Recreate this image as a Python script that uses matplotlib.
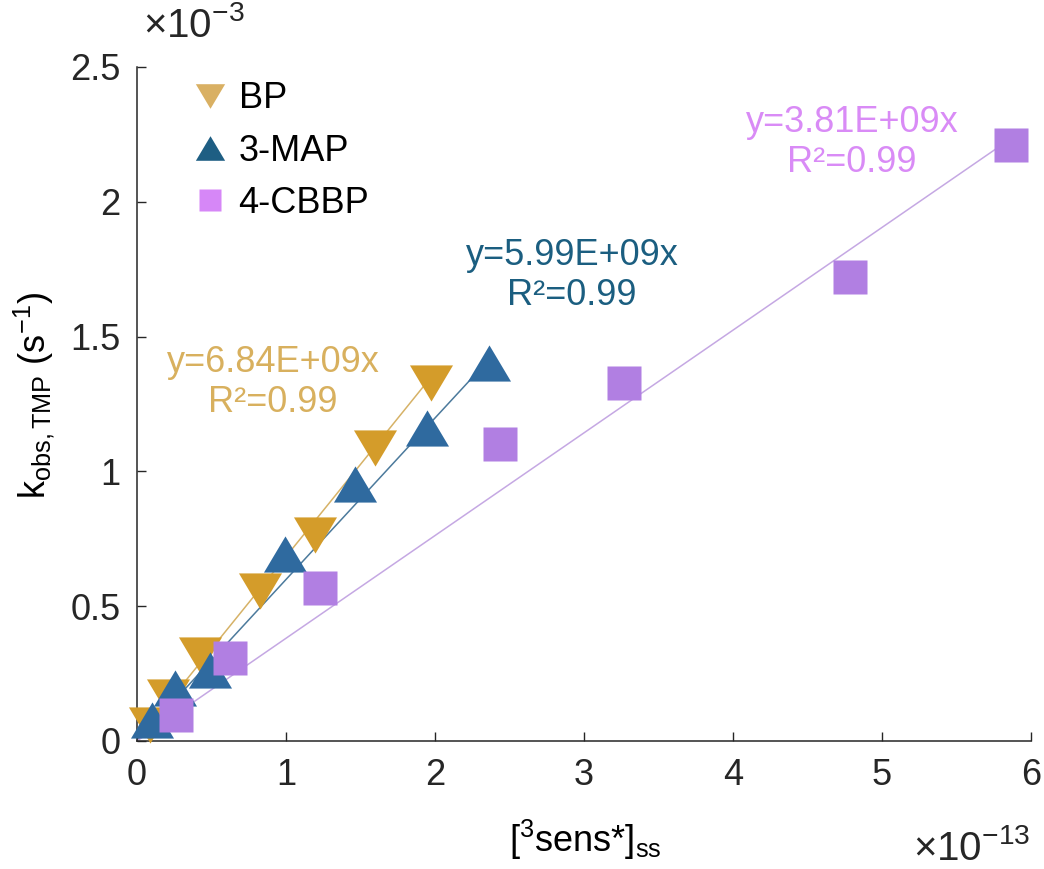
import numpy as np
import matplotlib
matplotlib.use("Agg")
import matplotlib.pyplot as plt

plt.rcParams['font.family'] = ['Liberation Sans', 'DejaVu Sans']
plt.rcParams['mathtext.fontset'] = 'custom'
plt.rcParams['mathtext.rm'] = 'Liberation Sans'
plt.rcParams['mathtext.it'] = 'Liberation Sans'

# x in units of 1e-13, y in units of 1e-3
bp_x = [0.087, 0.21, 0.42, 0.826, 1.195, 1.597, 1.973]
bp_y = [0.060, 0.163, 0.32, 0.557, 0.765, 1.088, 1.327]
map_x = [0.10, 0.255, 0.49, 0.993, 1.463, 1.946, 2.362]
map_y = [0.078, 0.197, 0.264, 0.695, 0.954, 1.162, 1.403]
cbbp_x = [0.26, 0.625, 1.23, 2.437, 3.27, 4.785, 5.866]
cbbp_y = [0.096, 0.309, 0.569, 1.103, 1.329, 1.722, 2.209]

# fitted slopes (s^-1 per concentration unit)
slopes = [6.84e9, 5.99e9, 3.81e9]
fit_text = ['y=6.84E+09x\nR²=0.99', 'y=5.99E+09x\nR²=0.99', 'y=3.81E+09x\nR²=0.99']

x_ticks = [0, 1, 2, 3, 4, 5, 6]
y_ticks = [0, 0.5, 1, 1.5, 2, 2.5]
y_ticklabels = ['0', '0.5', '1', '1.5', '2', '2.5']

names = ['BP', '3-MAP', '4-CBBP']
marker_col = ['#D49C2A', '#2F6A9F', '#B17FE2']
legend_col = ['#D9B063', '#1E5E83', '#D687F7']
text_col = ['#D8B05E', '#1B5E80', '#D98BF6']
line_col = ['#D6B267', '#4C7A9C', '#C5A8E3']

tri_down = [(-1, 0.84), (1, 0.84), (0, -0.84)]
tri_up = [(-1, -0.84), (1, -0.84), (0, 0.84)]

fig = plt.figure(figsize=(10.44, 8.69), dpi=100)
ax = fig.add_axes([0.1312, 0.1473, 0.8564, 0.7756])

series = [(bp_x, bp_y, tri_down, 31), (map_x, map_y, tri_up, 31), (cbbp_x, cbbp_y, 's', 24)]

# fit lines first so markers sit on top
for i, (xs, ys, mk, ms) in enumerate(series):
    xx = np.array([0, max(xs)])
    yy = slopes[i] * xx * 1e-13 / 1e-3
    ax.plot(xx, yy, color=line_col[i], lw=1.1, zorder=2)

handles = []
for i, (xs, ys, mk, ms) in enumerate(series):
    h, = ax.plot(xs, ys, linestyle='none', marker=mk, ms=ms, color=marker_col[i],
                 mec='none', label=names[i], zorder=3, clip_on=False)
    handles.append(h)

# fit annotations
ax.text(0.913, 1.329, fit_text[0], color=text_col[0], fontsize=26, ha='center', va='center', linespacing=1.17)
ax.text(2.92, 1.726, fit_text[1], color=text_col[1], fontsize=26, ha='center', va='center', linespacing=1.17)
ax.text(4.80, 2.22, fit_text[2], color=text_col[2], fontsize=26, ha='center', va='center', linespacing=1.17)

ax.set_xlim(0, 6)
ax.set_ylim(0, 2.5)
ax.set_xticks(x_ticks)
ax.set_yticks(y_ticks)
ax.set_yticklabels(y_ticklabels)
ax.tick_params(direction='in', length=6.5, width=1, labelsize=26, colors='#262626', pad=12)
for s in ['top', 'right']:
    ax.spines[s].set_visible(False)
for s in ['left', 'bottom']:
    ax.spines[s].set_color('#262626')
    ax.spines[s].set_linewidth(1.1)

ax.set_ylabel(r'k$_{\mathrm{obs,TMP}}$ (s$^{\mathrm{-1}}$)', fontsize=26)
ax.yaxis.set_label_coords(-0.09, 0.513)
ax.set_xlabel(r'[$^{\mathrm{3}}$sens*]$_{\mathrm{ss}}$', fontsize=26)
ax.xaxis.set_label_coords(0.501, -0.114)

ax.text(0.007, 1.045, r'×10$^{\mathrm{-3}}$', transform=ax.transAxes, fontsize=29,
        color='#262626', ha='left', va='baseline')
ax.text(0.999, -0.177, r'×10$^{\mathrm{-13}}$', transform=ax.transAxes, fontsize=29,
        color='#262626', ha='right', va='baseline')

leg = ax.legend(handles=handles, loc='upper left', bbox_to_anchor=(0.045, 1.0), frameon=False,
                fontsize=26, markerscale=0.68, handlelength=1.0, handletextpad=0.3,
                labelspacing=0.48, borderaxespad=0)
for i, lh in enumerate(leg.legend_handles):
    lh.set_color(legend_col[i])

fig.savefig('out.png', dpi=100)
